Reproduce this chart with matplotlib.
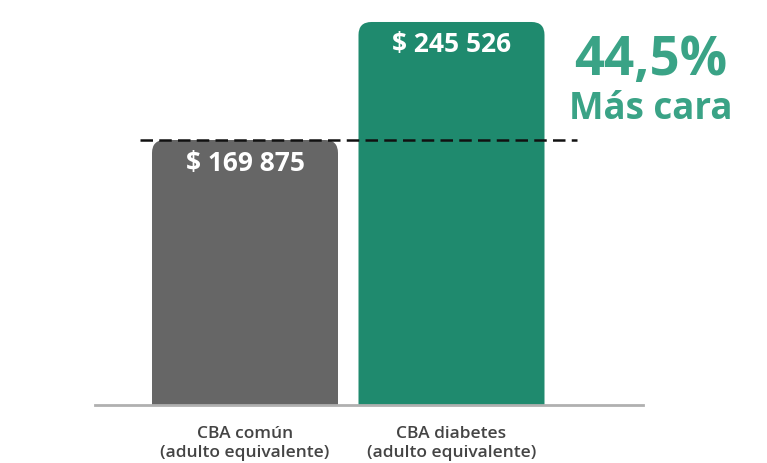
import matplotlib
matplotlib.use("Agg")
import matplotlib.pyplot as plt
from matplotlib.patches import PathPatch
from matplotlib.path import Path

categories = ["CBA común\n(adulto equivalente)", "CBA diabetes\n(adulto equivalente)"]
values = [169875, 245526]
value_labels = ["$ 169 875", "$ 245 526"]
colors = ["#666666", "#1f8a6e"]
annot_pct = "44,5%"
annot_txt = "Más cara"

plt.rcParams['font.family'] = ['Open Sans', 'DejaVu Sans']

W, H = 767, 463
fig = plt.figure(figsize=(W / 100, H / 100), dpi=100)
ax = fig.add_axes([95 / W, (H - 405) / H, (643 - 95) / W, 405 / H])

px_x = 206.5            # pixels per x unit
px_y = 265 / values[0]  # pixels per y unit
ax.set_xlim((95 - 245) / px_x, (643 - 245) / px_x)
ax.set_ylim(0, 405 / px_y)

bw = 186 / px_x
rx = 13 / px_x
ry = 13 / px_y
for i, (v, c) in enumerate(zip(values, colors)):
    x0, x1 = i - bw / 2, i + bw / 2
    verts = [(x0, 0), (x0, v - ry), (x0, v), (x0 + rx, v), (x1 - rx, v),
             (x1, v), (x1, v - ry), (x1, 0), (x0, 0)]
    codes = [Path.MOVETO, Path.LINETO, Path.CURVE3, Path.CURVE3, Path.LINETO,
             Path.CURVE3, Path.CURVE3, Path.LINETO, Path.CLOSEPOLY]
    ax.add_patch(PathPatch(Path(verts, codes), fc=c, ec="none", zorder=2))
    ax.text(i, v - 23 / px_y, value_labels[i], ha="center", va="center",
            color="white", fontsize=19, fontweight="bold", zorder=4)

ax.hlines(values[0], (140 - 245) / px_x, (577 - 245) / px_x, colors="#111111",
          linestyles=(0, (5, 2.5)), linewidth=1.8, zorder=3)

ax.set_xticks(range(len(categories)))
ax.set_xticklabels(categories, fontsize=12.5, color="#444444", linespacing=1.25,
                   fontweight="semibold")
ax.tick_params(axis="x", length=0, pad=15)
ax.set_yticks([])
for s in ["top", "left", "right"]:
    ax.spines[s].set_visible(False)
ax.spines["bottom"].set_color("#b0b0b0")
ax.spines["bottom"].set_linewidth(2)

fig.text(651 / W, 1 - 61 / H, annot_pct, ha="center", va="center",
         color="#3aa386", fontsize=38, fontweight="bold")
fig.text(651 / W, 1 - 109 / H, annot_txt, ha="center", va="center",
         color="#3aa386", fontsize=26.5, fontweight="bold")

fig.savefig("out.png", dpi=100)
